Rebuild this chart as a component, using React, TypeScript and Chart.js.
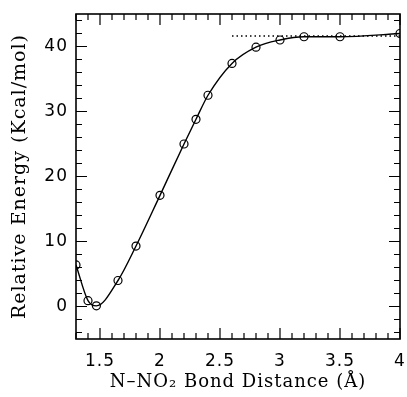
import React, { useEffect, useRef } from "react";
import { Chart, registerables } from "chart.js";

Chart.register(...registerables);

const distances = [1.3, 1.4, 1.47, 1.65, 1.8, 2.0, 2.2, 2.3, 2.4, 2.6, 2.8, 3.0, 3.2, 3.5, 4.0];
const energies = [6.4, 0.9, 0.1, 4.0, 9.3, 17.1, 25.0, 28.8, 32.5, 37.4, 39.9, 41.0, 41.5, 41.5, 42.0];
const asymptoteX = [2.6, 4.0];
const asymptoteY = [41.6, 41.6];
const xTickValues = [1.5, 2, 2.5, 3, 3.5, 4];
const yTickValues = [0, 10, 20, 30, 40];
const xRange = [1.3, 4.0];
const yRange = [-5, 45];

const textSpacing = {
  id: "textSpacing",
  beforeDraw(chart: any) {
    (chart.ctx as any).letterSpacing = "1px";
  },
  afterDraw(chart: any) {
    (chart.ctx as any).letterSpacing = "0px";
  },
};

const frameTicks = {
  id: "frameTicks",
  afterDatasetsDraw(chart: any) {
    const { ctx, chartArea } = chart;
    const { left, right, top, bottom } = chartArea;
    const xs = chart.scales.x;
    const ys = chart.scales.y;
    ctx.save();
    ctx.strokeStyle = "#000";
    ctx.lineWidth = 1.6;
    ctx.strokeRect(left, top, right - left, bottom - top);
    ctx.lineWidth = 1.2;
    ctx.beginPath();
    for (let i = 0; i <= 27; i++) {
      const v = xRange[0] + i * 0.1;
      const px = xs.getPixelForValue(v);
      const major = Math.abs(v * 2 - Math.round(v * 2)) < 1e-6;
      const len = major ? 11 : 6;
      ctx.moveTo(px, bottom);
      ctx.lineTo(px, bottom - len);
      ctx.moveTo(px, top);
      ctx.lineTo(px, top + len);
    }
    for (let v = -4; v <= 44; v += 2) {
      const py = ys.getPixelForValue(v);
      const major = v % 10 === 0;
      const len = major ? 11 : 6;
      ctx.moveTo(left, py);
      ctx.lineTo(left + len, py);
      ctx.moveTo(right, py);
      ctx.lineTo(right - len, py);
    }
    ctx.stroke();
    ctx.restore();
  },
};

export default function App() {
  const ref = useRef<HTMLCanvasElement | null>(null);
  useEffect(() => {
    document.body.style.margin = "0";
    const canvas = ref.current;
    if (!canvas) return;
    const chart = new Chart(canvas, {
      type: "scatter",
      data: {
        datasets: [
          {
            data: asymptoteX.map((x, i) => ({ x, y: asymptoteY[i] })),
            showLine: true,
            borderColor: "#000",
            borderWidth: 1.5,
            borderDash: [1.5, 3],
            pointRadius: 0,
            clip: 0,
          } as any,
          {
            data: distances.map((x, i) => ({ x, y: energies[i] })),
            showLine: true,
            cubicInterpolationMode: "monotone",
            borderColor: "#000",
            borderWidth: 1.4,
            pointRadius: 4,
            pointBorderWidth: 1.2,
            pointBorderColor: "#000",
            pointBackgroundColor: "rgba(0,0,0,0)",
            clip: 0,
          } as any,
        ],
      },
      options: {
        animation: false,
        responsive: false,
        events: [],
        layout: { padding: { top: 14, right: 7, left: 0, bottom: 0 } },
        plugins: { legend: { display: false }, tooltip: { enabled: false } },
        scales: {
          x: {
            type: "linear",
            min: xRange[0],
            max: xRange[1],
            afterBuildTicks: (s: any) => {
              s.ticks = xTickValues.map((value) => ({ value }));
            },
            afterFit: (s: any) => {
              s.height = 58;
              s.paddingLeft = 0;
              s.paddingRight = 0;
            },
            grid: { display: false, drawTicks: false },
            border: { display: false },
            ticks: {
              color: "#000",
              padding: 12,
              maxRotation: 0,
              autoSkip: false,
              font: { family: "DejaVu Sans", size: 17 },
              callback: (v: any) => String(v),
            },
            title: {
              display: true,
              text: "N\u2013NO\u2082 Bond Distance (\u00C5)",
              color: "#000",
              font: { family: "DejaVu Serif", size: 18 },
              padding: { top: 0, bottom: 4 },
            },
          },
          y: {
            type: "linear",
            min: yRange[0],
            max: yRange[1],
            afterBuildTicks: (s: any) => {
              s.ticks = yTickValues.map((value) => ({ value }));
            },
            afterFit: (s: any) => {
              s.width = 76;
              s.paddingTop = 0;
              s.paddingBottom = 0;
            },
            grid: { display: false, drawTicks: false },
            border: { display: false },
            ticks: {
              color: "#000",
              padding: 8,
              autoSkip: false,
              font: { family: "DejaVu Sans", size: 17 },
            },
            title: {
              display: true,
              text: "Relative Energy (Kcal/mol)",
              color: "#000",
              font: { family: "DejaVu Serif", size: 19 },
              padding: { top: 9, bottom: 0 },
            },
          },
        },
      },
      plugins: [textSpacing, frameTicks],
    });
    return () => chart.destroy();
  }, []);
  return (
    <div style={{ width: 407, height: 397 }}>
      <canvas ref={ref} width={407} height={397} style={{ display: "block" }} />
    </div>
  );
}
